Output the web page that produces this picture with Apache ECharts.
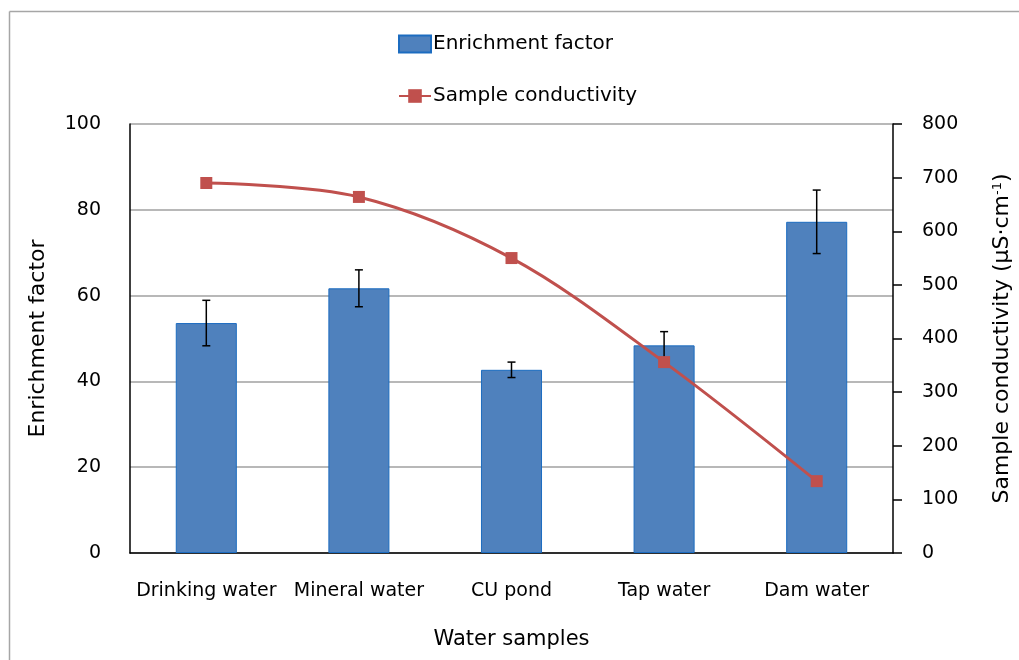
<!DOCTYPE html>
<html>
<head>
<meta charset="utf-8">
<style>
  html, body { margin: 0; padding: 0; background: #fff; }
  #chart { width: 1019px; height: 660px; }
</style>
<script src="https://cdn.jsdelivr.net/npm/echarts@6/dist/echarts.min.js"></script>
</head>
<body>
<div id="chart"></div>
<script>
// Water samples and measured values
var categories = ['Drinking water', 'Mineral water', 'CU pond', 'Tap water', 'Dam water'];
var enrichmentFactor = [53.6, 61.7, 42.7, 48.4, 77.2];
var enrichmentError = [5.3, 4.3, 1.8, 3.2, 7.4];
var conductivity = [690, 664, 550, 356, 134];
var leftTicks = [0, 20, 40, 60, 80, 100];
var rightTicks = [0, 100, 200, 300, 400, 500, 600, 700, 800];

var FONT = 'DejaVu Sans';
var chart = echarts.init(document.getElementById('chart'), null, { renderer: 'canvas' });

var errorData = enrichmentFactor.map(function (v, i) {
  return [i, v - enrichmentError[i], v + enrichmentError[i]];
});

chart.setOption({
  animation: false,
  backgroundColor: '#ffffff',
  textStyle: { fontFamily: FONT, color: '#000' },
  graphic: [
    { type: 'line', shape: { x1: 9.5, y1: 11.5, x2: 1019, y2: 11.5 }, style: { stroke: '#a6a6a6', lineWidth: 1.5 } },
    { type: 'line', shape: { x1: 9.5, y1: 11.5, x2: 9.5, y2: 660 }, style: { stroke: '#a6a6a6', lineWidth: 1.5 } }
  ],
  legend: {
    orient: 'vertical',
    left: 398,
    top: 34,
    padding: 0,
    itemWidth: 32,
    itemHeight: 17,
    itemGap: 32,
    textStyle: { fontFamily: FONT, fontSize: 20, color: '#000', padding: [0, 0, 0, -3] },
    data: [
      { name: 'Enrichment factor', icon: 'rect' },
      { name: 'Sample conductivity' }
    ]
  },
  grid: { left: 130, right: 126, top: 124, bottom: 107, containLabel: false, outerBoundsMode: 'none' },
  xAxis: {
    type: 'category',
    data: categories,
    name: 'Water samples',
    nameLocation: 'middle',
    nameGap: 76,
    nameTextStyle: { fontFamily: FONT, fontSize: 21, color: '#000' },
    axisLine: { lineStyle: { color: '#000', width: 1.5 } },
    axisTick: { show: false },
    axisLabel: { fontFamily: FONT, fontSize: 19, color: '#000', margin: 29, interval: 0 }
  },
  yAxis: [
    {
      type: 'value',
      min: leftTicks[0],
      max: leftTicks[leftTicks.length - 1],
      interval: leftTicks[1] - leftTicks[0],
      name: 'Enrichment factor',
      nameLocation: 'middle',
      nameGap: 81,
      nameRotate: 90,
      nameTextStyle: { fontFamily: FONT, fontSize: 22, color: '#000' },
      axisLine: { show: true, lineStyle: { color: '#000', width: 1.5 } },
      axisTick: { show: false },
      axisLabel: { fontFamily: FONT, fontSize: 19, color: '#000', margin: 29 },
      splitLine: { show: true, lineStyle: { color: '#a0a0a0', width: 1.5 } }
    },
    {
      type: 'value',
      min: rightTicks[0],
      max: rightTicks[rightTicks.length - 1],
      interval: rightTicks[1] - rightTicks[0],
      position: 'right',
      name: '{t|Sample conductivity (µS·cm}{s|-1}{t|)}',
      nameLocation: 'middle',
      nameGap: 98,
      nameRotate: 90,
      nameTextStyle: {
        fontFamily: FONT,
        rich: {
          t: { fontFamily: FONT, fontSize: 22, color: '#000' },
          s: { fontFamily: FONT, fontSize: 13, color: '#000', verticalAlign: 'top', padding: [0, 0, 10, 0] }
        }
      },
      axisLine: { show: true, lineStyle: { color: '#000', width: 1.5 } },
      axisTick: { show: true, length: 9, lineStyle: { color: '#000', width: 1.5 } },
      axisLabel: { fontFamily: FONT, fontSize: 19, color: '#000', margin: 29 },
      splitLine: { show: false }
    }
  ],
  series: [
    {
      name: 'Enrichment factor',
      type: 'bar',
      yAxisIndex: 0,
      data: enrichmentFactor,
      barWidth: '40%',
      itemStyle: { color: '#4F81BD', borderColor: '#1C6CC0', borderWidth: 1 },
      z: 2
    },
    {
      name: 'error',
      type: 'custom',
      yAxisIndex: 0,
      data: errorData,
      z: 3,
      renderItem: function (params, api) {
        var x = api.value(0);
        var lo = api.coord([x, api.value(1)]);
        var hi = api.coord([x, api.value(2)]);
        var cap = 4;
        var style = { stroke: '#000', lineWidth: 1.5 };
        return {
          type: 'group',
          children: [
            { type: 'line', shape: { x1: lo[0], y1: lo[1], x2: hi[0], y2: hi[1] }, style: style },
            { type: 'line', shape: { x1: hi[0] - cap, y1: hi[1], x2: hi[0] + cap, y2: hi[1] }, style: style },
            { type: 'line', shape: { x1: lo[0] - cap, y1: lo[1], x2: lo[0] + cap, y2: lo[1] }, style: style }
          ]
        };
      },
      encode: { x: 0, y: [1, 2] },
      silent: true
    },
    {
      name: 'Sample conductivity',
      type: 'line',
      yAxisIndex: 1,
      data: conductivity,
      smooth: 0.33,
      symbol: 'rect',
      symbolSize: 12,
      lineStyle: { color: '#C0504D', width: 3 },
      itemStyle: { color: '#C0504D' },
      z: 5
    }
  ]
});
</script>
</body>
</html>
